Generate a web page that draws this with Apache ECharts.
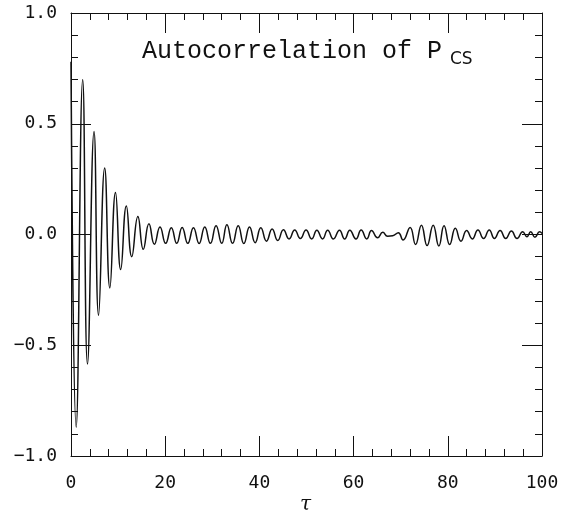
<!DOCTYPE html>
<html>
<head>
<meta charset="utf-8">
<script src="https://cdn.jsdelivr.net/npm/echarts@6/dist/echarts.min.js"></script>
<style>
html, body { margin: 0; padding: 0; background: #fff; }
#chart { width: 569px; height: 517px; }
</style>
</head>
<body>
<div id="chart"></div>
<script>
// lag values (tau) at the peaks / troughs
var tau = [0, 1.1, 2.48, 3.5, 4.89, 5.85, 7.15, 8.25, 9.45, 10.55,
    11.75, 12.9, 14.2, 15.35, 16.55, 17.7, 18.9, 20.1, 21.3, 22.45,
    23.6, 24.8, 26.0, 27.2, 28.4, 29.6, 30.8, 32.0, 33.1, 34.3,
    35.5, 36.7, 37.9, 39.1, 40.3, 41.5, 42.7, 43.9, 45.1, 46.3,
    47.5, 48.7, 49.9, 51.1, 52.2, 53.4, 54.5, 55.7, 57.0, 58.1,
    59.2, 60.5, 61.6, 62.8, 63.8, 65.1, 66.2, 67.2, 68.3, 69.5,
    70.5, 72.0, 73.15, 74.4, 75.6, 76.9, 78.1, 79.2, 80.4, 81.6,
    82.8, 84.0, 85.2, 86.4, 87.6, 88.8, 89.9, 91.1, 92.3, 93.5,
    94.7, 95.9, 96.8, 97.6, 98.5, 99.5, 100];
// autocorrelation at those lags
var acf = [0.78, -0.87, 0.70, -0.585, 0.465, -0.364, 0.30, -0.241, 0.19, -0.158,
    0.129, -0.10, 0.081, -0.067, 0.048, -0.044, 0.034, -0.04, 0.031, -0.04,
    0.032, -0.04, 0.031, -0.041, 0.034, -0.04, 0.04, -0.04, 0.044, -0.04,
    0.04, -0.041, 0.034, -0.037, 0.031, -0.03, 0.025, -0.027, 0.021, -0.02,
    0.02, -0.018, 0.02, -0.02, 0.019, -0.02, 0.019, -0.02, 0.019, -0.02,
    0.019, -0.02, 0.02, -0.02, 0.018, -0.015, 0.01, -0.008, -0.006, 0.008,
    -0.025, 0.032, -0.045, 0.042, -0.05, 0.042, -0.052, 0.04, -0.045, 0.028,
    -0.03, 0.018, -0.02, 0.02, -0.018, 0.02, -0.018, 0.018, -0.018, 0.016,
    -0.018, 0.012, -0.01, 0.012, -0.012, 0.012, 0.005];

var xTicks = [0, 20, 40, 60, 80, 100];
var yTicks = [-1.0, -0.5, 0.0, 0.5, 1.0];

var points = [];
for (var i = 0; i < tau.length; i++) {
    points.push([tau[i], acf[i]]);
}

var ink = '#111';
var labelFont = { color: ink, fontSize: 18, fontFamily: 'DejaVu Sans Mono' };

function yLabel(v) {
    return v.toFixed(1).replace('-', '\u2212');
}

// one axis side with inward ticks
function side(pos, isX, labels) {
    var ax = {
        type: 'value',
        position: pos,
        min: isX ? xTicks[0] : yTicks[0],
        max: isX ? xTicks[xTicks.length - 1] : yTicks[yTicks.length - 1],
        interval: isX ? 20 : 0.5,
        axisLine: { show: true, onZero: false, lineStyle: { color: ink, width: 1 } },
        axisTick: { show: true, inside: true, length: 20, lineStyle: { color: ink, width: 1 } },
        minorTick: { show: true, splitNumber: 5, length: 7, lineStyle: { color: ink, width: 1 } },
        splitLine: { show: false },
        axisLabel: { show: labels }
    };
    if (labels) {
        ax.axisLabel = Object.assign({ show: true, margin: isX ? 18 : 14 }, labelFont);
        if (!isX) ax.axisLabel.formatter = yLabel;
    }
    return ax;
}

var chart = echarts.init(document.getElementById('chart'), null, { renderer: 'canvas' });
chart.setOption({
    backgroundColor: '#fff',
    animation: false,
    grid: { left: 71, right: 27, top: 13, bottom: 61 },
    xAxis: [side('bottom', true, true), side('top', true, false)],
    yAxis: [side('left', false, true), side('right', false, false)],
    graphic: [
        {
            type: 'text', left: 142, top: 39,
            style: { text: 'Autocorrelation of P', fill: ink, fontSize: 25, fontFamily: 'Liberation Mono' }
        },
        {
            type: 'text', left: 450, top: 51,
            style: { text: 'CS', fill: ink, fontSize: 17, fontFamily: 'DejaVu Sans' }
        },
        {
            type: 'text', left: 300, top: 495,
            style: { text: '\u03c4', fill: ink, fontSize: 20, fontStyle: 'italic', fontFamily: 'DejaVu Serif' }
        }
    ],
    series: [
        {
            type: 'line',
            xAxisIndex: 0,
            yAxisIndex: 0,
            data: points,
            smooth: 0.5,
            showSymbol: false,
            lineStyle: { color: ink, width: 1.5 }
        }
    ]
});
</script>
</body>
</html>
